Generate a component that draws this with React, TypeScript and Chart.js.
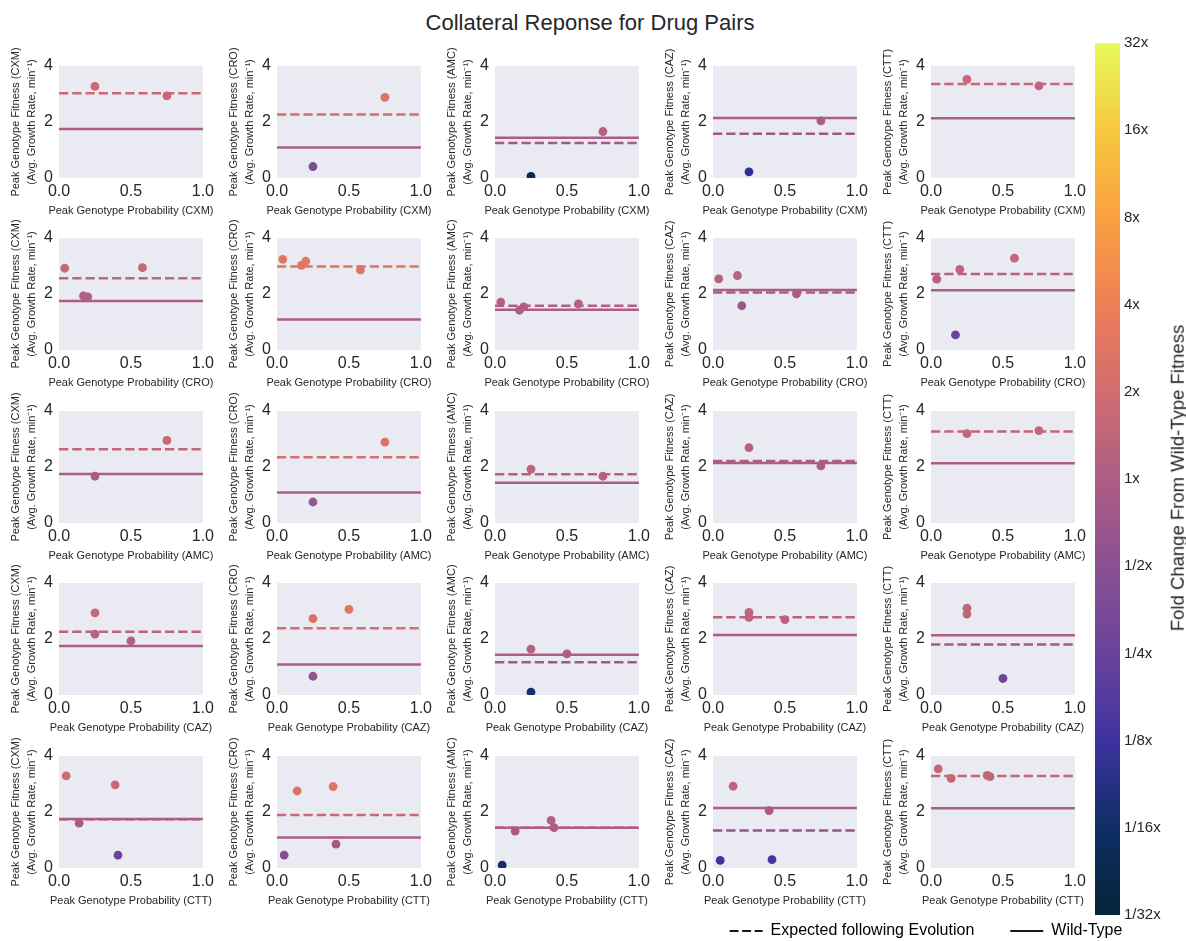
import React, { useEffect, useRef } from 'react';
import { Chart, registerables } from 'chart.js';

Chart.register(...registerables);

// ---------------- data ----------------
const chartTitle = 'Collateral Reponse for Drug Pairs';
const drugs = ['CXM', 'CRO', 'AMC', 'CAZ', 'CTT'];

// wild-type fitness for the drug of each column (y axis drug)
const wildTypeFitness = [1.75, 1.09, 1.44, 2.14, 2.13];

// expected fitness following evolution in the row drug, per column drug
const expectedCXM = [3.03, 2.27, 1.25, 1.58, 3.36];
const expectedCRO = [2.56, 2.98, 1.58, 2.05, 2.71];
const expectedAMC = [2.63, 2.35, 1.74, 2.21, 3.27];
const expectedCAZ = [2.26, 2.38, 1.17, 2.78, 1.8];
const expectedCTT = [1.74, 1.89, 1.44, 1.34, 3.29];

// peak genotype probabilities in the row drug
const probCXM = [0.25, 0.75];
const probCRO = [0.04, 0.17, 0.2, 0.58];
const probAMC = [0.25, 0.75];
const probCAZ = [0.25, 0.25, 0.5];
const probCTT = [0.05, 0.14, 0.39, 0.41];

// peak genotype fitness, [column drug][genotype]
const fitnessCXM = [[3.27, 2.93], [0.41, 2.88], [0.06, 1.66], [0.22, 2.04], [3.52, 3.29]];
const fitnessCRO = [[2.92, 1.93, 1.9, 2.94], [3.24, 3.02, 3.17, 2.86], [1.71, 1.42, 1.54, 1.65], [2.54, 2.66, 1.58, 2.0], [2.53, 0.54, 2.88, 3.28]];
const fitnessAMC = [[1.67, 2.95], [0.75, 2.89], [1.92, 1.67], [2.69, 2.04], [3.19, 3.3]];
const fitnessCAZ = [[2.93, 2.17, 1.93], [2.73, 0.67, 3.06], [1.64, 0.1, 1.47], [2.95, 2.77, 2.69], [3.1, 2.89, 0.59]];
const fitnessCTT = [[3.29, 1.6, 2.97, 0.46], [0.46, 2.75, 2.91, 0.85], [0.1, 1.32, 1.7, 1.44], [0.27, 2.92, 2.05, 0.3], [3.54, 3.2, 3.31, 3.26]];

const xTickValues = [0, 0.5, 1];
const yTickValues = [0, 2, 4];
const colorbarTickValues = [-5, -4, -3, -2, -1, 0, 1, 2, 3, 4, 5];
const colorbarTickLabels = ['1/32x', '1/16x', '1/8x', '1/4x', '1/2x', '1x', '2x', '4x', '8x', '16x', '32x'];
const colorbarTitle = 'Fold Change From Wild-Type Fitness';
const legendLabels = ['Expected following Evolution', 'Wild-Type'];

const rows = [
  { prob: probCXM, fitness: fitnessCXM, expected: expectedCXM },
  { prob: probCRO, fitness: fitnessCRO, expected: expectedCRO },
  { prob: probAMC, fitness: fitnessAMC, expected: expectedAMC },
  { prob: probCAZ, fitness: fitnessCAZ, expected: expectedCAZ },
  { prob: probCTT, fitness: fitnessCTT, expected: expectedCTT },
];

// ---------------- style ----------------
const FONT = "'Liberation Sans', Arial, Helvetica, sans-serif";
const TEXT = '#262626';
const PLOT_BG = '#EAEAF2';

const COL_PITCH = 218;
const PLOT_TOPS = [66, 238, 411, 583, 756];
const PAD_TOP = 26;
const Y_AXIS_W = 59;
const X_AXIS_H = 39;
const PAD_RIGHT = 12;
const CELL_W = 218;
const CELL_H = PAD_TOP + 112 + X_AXIS_H;

// thermal-like colormap stops (log2 fold change -5..5)
const cmapStops: number[][] = [
  [5, 36, 55],
  [14, 46, 100],
  [62, 50, 160],
  [105, 67, 156],
  [138, 80, 145],
  [173, 93, 132],
  [210, 108, 112],
  [238, 126, 86],
  [249, 161, 64],
  [246, 200, 62],
  [232, 250, 91],
];

function cmap(t: number): string {
  const tt = Math.max(0, Math.min(1, t));
  const s = tt * (cmapStops.length - 1);
  const i = Math.min(cmapStops.length - 2, Math.floor(s));
  const f = s - i;
  const a = cmapStops[i];
  const b = cmapStops[i + 1];
  const c = a.map((v, k) => Math.round(v + (b[k] - v) * f));
  return `rgb(${c[0]},${c[1]},${c[2]})`;
}

function foldColor(ratio: number): string {
  return cmap((Math.log2(ratio) + 5) / 10);
}

Chart.defaults.font.family = FONT;
Chart.defaults.color = TEXT;

const plotBackground = {
  id: 'plotBackground',
  beforeDraw(chart: any) {
    const { ctx, chartArea: a } = chart;
    if (!a) return;
    ctx.save();
    ctx.fillStyle = PLOT_BG;
    ctx.fillRect(a.left, a.top, a.right - a.left, a.bottom - a.top);
    ctx.restore();
  },
};

const xAxisTitle = {
  id: 'xAxisTitle',
  afterDraw(chart: any, _args: any, opts: any) {
    const { ctx, chartArea: a } = chart;
    if (!a || !opts || !opts.text) return;
    ctx.save();
    ctx.font = `11px ${FONT}`;
    ctx.fillStyle = TEXT;
    ctx.textAlign = 'center';
    ctx.textBaseline = 'middle';
    ctx.fillText(opts.text, (a.left + a.right) / 2, a.bottom + 33);
    ctx.restore();
  },
};

const colorbarFill = {
  id: 'colorbarFill',
  beforeDatasetsDraw(chart: any) {
    const { ctx, chartArea: a } = chart;
    if (!a) return;
    const g = ctx.createLinearGradient(0, a.bottom, 0, a.top);
    for (let i = 0; i <= 60; i++) {
      const t = i / 60;
      g.addColorStop(t, cmap(t));
    }
    ctx.save();
    ctx.fillStyle = g;
    ctx.fillRect(a.left, a.top, a.right - a.left, a.bottom - a.top);
    ctx.restore();
  },
};

function subplotConfig(r: number, c: number): any {
  const row = rows[r];
  const wt = wildTypeFitness[c];
  const ex = row.expected[c];
  const ys = row.fitness[c];
  const pts = row.prob.map((x, i) => ({ x, y: ys[i] }));
  const ptColors = ys.map((y) => foldColor(y / wt));
  return {
    type: 'scatter',
    data: {
      datasets: [
        {
          data: pts,
          backgroundColor: ptColors,
          pointBackgroundColor: ptColors,
          borderWidth: 0,
          pointBorderWidth: 0,
          pointRadius: 4.4,
          pointHoverRadius: 4.4,
          showLine: false,
        },
        {
          data: [{ x: 0, y: wt }, { x: 1, y: wt }],
          showLine: true,
          borderColor: foldColor(1),
          borderWidth: 2.5,
          borderCapStyle: 'butt',
          pointRadius: 0,
          pointHoverRadius: 0,
          fill: false,
        },
        {
          data: [{ x: 0, y: ex }, { x: 1, y: ex }],
          showLine: true,
          borderColor: foldColor(ex / wt),
          borderWidth: 2.5,
          borderDash: [9.25, 4],
          borderCapStyle: 'butt',
          pointRadius: 0,
          pointHoverRadius: 0,
          fill: false,
        },
      ],
    },
    options: {
      responsive: false,
      animation: false,
      events: [],
      layout: { padding: { top: PAD_TOP, right: PAD_RIGHT, left: 0, bottom: 0 } },
      plugins: {
        legend: { display: false },
        tooltip: { enabled: false },
        xAxisTitle: { text: `Peak Genotype Probability (${drugs[r]})` },
      },
      scales: {
        x: {
          type: 'linear',
          min: xTickValues[0],
          max: xTickValues[xTickValues.length - 1],
          afterFit: (s: any) => {
            s.height = X_AXIS_H;
          },
          afterBuildTicks: (s: any) => {
            s.ticks = xTickValues.map((v) => ({ value: v }));
          },
          grid: { display: false, drawTicks: false },
          border: { display: false },
          ticks: {
            autoSkip: false,
            maxRotation: 0,
            padding: 4,
            color: TEXT,
            font: { size: 16 },
            callback: (v: any) => Number(v).toFixed(1),
          },
        },
        y: {
          type: 'linear',
          min: yTickValues[0],
          max: yTickValues[yTickValues.length - 1],
          afterFit: (s: any) => {
            s.width = Y_AXIS_W;
          },
          afterBuildTicks: (s: any) => {
            s.ticks = yTickValues.map((v) => ({ value: v }));
          },
          grid: { display: false, drawTicks: false },
          border: { display: false },
          ticks: {
            padding: 6,
            color: TEXT,
            font: { size: 16 },
            callback: (v: any) => String(v),
          },
          title: {
            display: true,
            text: [`Peak Genotype Fitness (${drugs[c]})`, '(Avg. Growth Rate, min\u207B\u00B9)'],
            color: TEXT,
            font: { size: 11, lineHeight: '16px' },
            padding: { top: 8, bottom: 0 },
          },
        },
      },
    },
    plugins: [plotBackground, xAxisTitle],
  };
}

function colorbarConfig(): any {
  return {
    type: 'scatter',
    data: { datasets: [] },
    options: {
      responsive: false,
      animation: false,
      events: [],
      layout: { padding: { top: 20, bottom: 20, left: 0, right: 0 } },
      plugins: { legend: { display: false }, tooltip: { enabled: false } },
      scales: {
        x: { display: false, min: 0, max: 1 },
        y: {
          position: 'right',
          min: colorbarTickValues[0],
          max: colorbarTickValues[colorbarTickValues.length - 1],
          afterFit: (s: any) => {
            s.width = 66;
          },
          afterBuildTicks: (s: any) => {
            s.ticks = colorbarTickValues.map((v) => ({ value: v }));
          },
          grid: { display: false, drawTicks: false },
          border: { display: false },
          ticks: {
            padding: 4,
            color: TEXT,
            font: { size: 15 },
            callback: (v: any) => colorbarTickLabels[colorbarTickValues.indexOf(Math.round(Number(v)))],
          },
        },
      },
    },
    plugins: [colorbarFill],
  };
}

function legendConfig(): any {
  return {
    type: 'scatter',
    data: { datasets: [] },
    options: {
      responsive: false,
      animation: false,
      events: [],
      layout: { padding: 0 },
      scales: { x: { display: false }, y: { display: false } },
      plugins: {
        tooltip: { enabled: false },
        legend: {
          display: true,
          position: 'top',
          align: 'center',
          labels: {
            color: TEXT,
            font: { size: 16 },
            padding: 36,
            usePointStyle: true,
            pointStyleWidth: 33,
            generateLabels: () => [
              {
                text: legendLabels[0],
                fillStyle: 'rgba(0,0,0,0)',
                strokeStyle: '#1a1a1a',
                lineWidth: 2,
                lineDash: [9, 3.5],
                pointStyle: 'line',
                hidden: false,
                datasetIndex: 0,
              },
              {
                text: legendLabels[1],
                fillStyle: 'rgba(0,0,0,0)',
                strokeStyle: '#1a1a1a',
                lineWidth: 2,
                lineDash: [],
                pointStyle: 'line',
                hidden: false,
                datasetIndex: 1,
              },
            ],
          },
        },
      },
    },
  };
}

function ChartCanvas(props: { left: number; top: number; width: number; height: number; makeConfig: () => any }) {
  const ref = useRef<HTMLCanvasElement | null>(null);
  useEffect(() => {
    if (!ref.current) return;
    const chart = new Chart(ref.current, props.makeConfig());
    return () => chart.destroy();
  }, []);
  return (
    <canvas
      ref={ref}
      width={props.width}
      height={props.height}
      style={{ position: 'absolute', left: props.left, top: props.top, width: props.width, height: props.height, display: 'block' }}
    />
  );
}

export default function App() {
  const cells: React.ReactNode[] = [];
  for (let r = 0; r < drugs.length; r++) {
    for (let c = 0; c < drugs.length; c++) {
      cells.push(
        <ChartCanvas
          key={`${r}-${c}`}
          left={c * COL_PITCH}
          top={PLOT_TOPS[r] - PAD_TOP}
          width={CELL_W}
          height={CELL_H}
          makeConfig={() => subplotConfig(r, c)}
        />
      );
    }
  }
  return (
    <div
      style={{
        position: 'absolute',
        left: 0,
        top: 0,
        width: 1186,
        height: 941,
        overflow: 'hidden',
        background: '#ffffff',
        fontFamily: FONT,
        color: TEXT,
      }}
    >
      <div
        style={{
          position: 'absolute',
          left: 0,
          top: 12,
          width: 1180,
          textAlign: 'center',
          fontSize: 22,
          lineHeight: '22px',
          whiteSpace: 'nowrap',
        }}
      >
        {chartTitle}
      </div>
      {cells}
      <ChartCanvas left={1095} top={23} width={91} height={912} makeConfig={colorbarConfig} />
      <div
        style={{
          position: 'absolute',
          left: 1178,
          top: 478,
          transform: 'translate(-50%, -50%) rotate(-90deg)',
          whiteSpace: 'nowrap',
          fontSize: 18.5,
          lineHeight: 1,
        }}
      >
        {colorbarTitle}
      </div>
      <ChartCanvas left={676} top={887} width={500} height={140} makeConfig={legendConfig} />
    </div>
  );
}
